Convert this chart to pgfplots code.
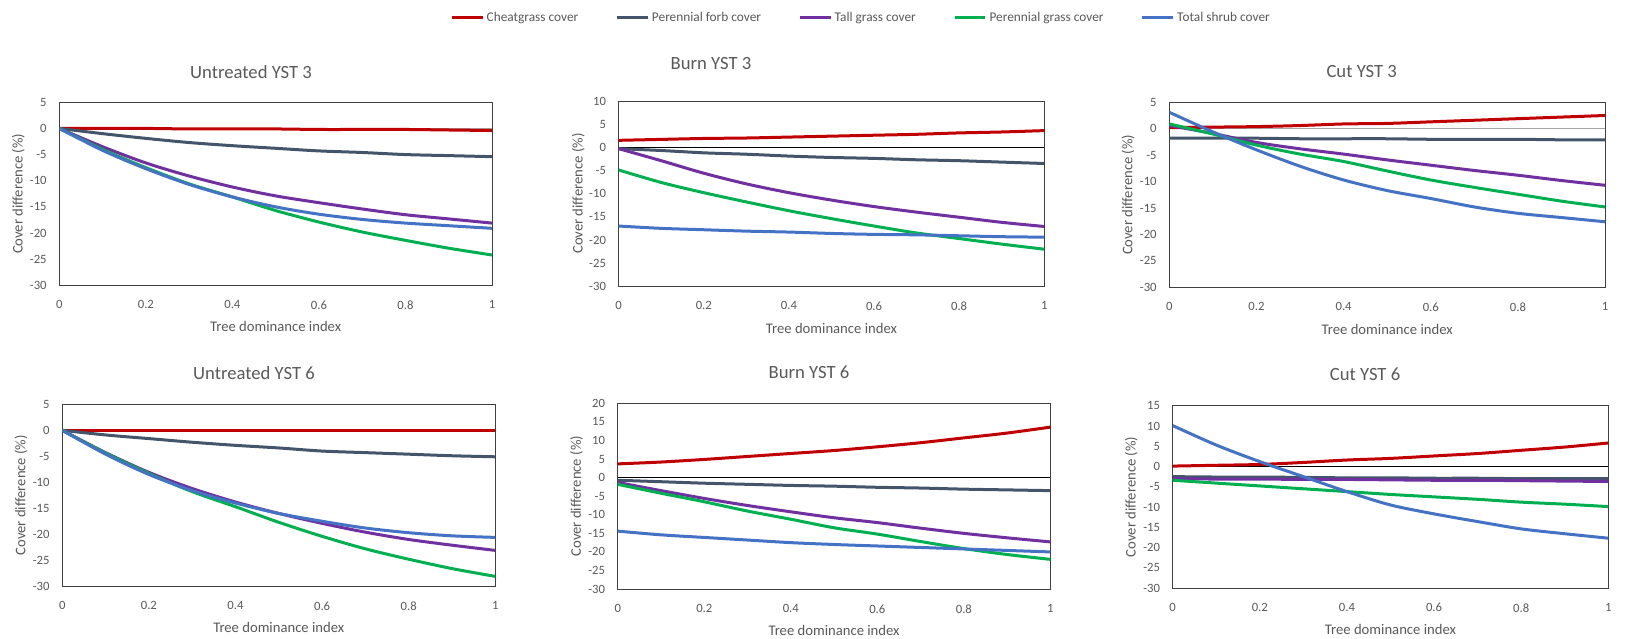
\documentclass[border=0pt]{standalone}
\usepackage{fontspec}
\setmainfont{Carlito}
\usepackage{pgfplots}
\usepackage{pgfplotstable}
\pgfplotsset{compat=1.18}
\definecolor{cheat}{HTML}{C00000}
\definecolor{forb}{HTML}{44546A}
\definecolor{tall}{HTML}{7030A0}
\definecolor{pgrass}{HTML}{00B050}
\definecolor{shrub}{HTML}{4472C4}
\definecolor{txt}{HTML}{595959}
\definecolor{frm}{HTML}{404040}

\pgfplotstableread{
x cheat forb tall pg shrub
0   0    0    0     0     0
0.1 0   -1.0 -3.5  -4.0  -4.2
0.2 0   -1.9 -6.6  -7.5  -7.7
0.3 -0.1 -2.7 -9.1 -10.6 -10.7
0.4 -0.1 -3.3 -11.2 -13.1 -13.1
0.5 -0.1 -3.8 -12.9 -15.7 -15.0
0.6 -0.2 -4.3 -14.2 -17.9 -16.4
0.7 -0.2 -4.6 -15.4 -19.8 -17.4
0.8 -0.2 -5.0 -16.5 -21.4 -18.1
0.9 -0.3 -5.2 -17.3 -22.9 -18.6
1.0 -0.4 -5.4 -18.1 -24.2 -19.1
}\tA
\pgfplotstableread{
x cheat forb tall pg shrub
0   1.5 -0.3 -0.3  -4.9 -17.0
0.1 1.7 -0.7 -2.9  -7.6 -17.5
0.2 1.9 -1.2 -5.6  -9.8 -17.8
0.3 2.0 -1.5 -7.9 -11.8 -18.1
0.4 2.2 -1.9 -9.8 -13.7 -18.3
0.5 2.4 -2.2 -11.4 -15.4 -18.6
0.6 2.6 -2.4 -12.8 -17.0 -18.8
0.7 2.8 -2.7 -14.0 -18.5 -18.9
0.8 3.1 -2.9 -15.1 -19.7 -19.1
0.9 3.3 -3.2 -16.2 -20.9 -19.3
1.0 3.6 -3.5 -17.1 -22.0 -19.4
}\tB
\pgfplotstableread{
x cheat forb tall pg shrub
0   0.2 -1.8  0.6   0.9   3.1
0.1 0.3 -1.8 -0.9  -1.0  -0.6
0.2 0.4 -1.8 -2.6  -3.1  -4.0
0.3 0.6 -1.9 -3.8  -4.8  -7.1
0.4 0.9 -1.9 -4.8  -6.2  -9.7
0.5 1.0 -1.9 -5.9  -8.0 -11.7
0.6 1.3 -2.0 -6.9  -9.7 -13.2
0.7 1.6 -2.0 -7.9 -11.1 -14.8
0.8 1.9 -2.0 -8.8 -12.4 -16.0
0.9 2.2 -2.1 -9.8 -13.7 -16.8
1.0 2.5 -2.1 -10.7 -14.8 -17.6
}\tC
\pgfplotstableread{
x cheat forb tall pg shrub
0   0  0    0     0     0
0.1 0 -0.9 -4.3  -4.4  -4.6
0.2 0 -1.6 -8.1  -8.3  -8.5
0.3 0 -2.3 -11.2 -11.8 -11.6
0.4 0 -2.9 -13.8 -14.7 -14.0
0.5 0 -3.4 -16.0 -17.7 -16.0
0.6 0 -4.0 -17.9 -20.4 -17.5
0.7 0 -4.3 -19.6 -22.8 -18.8
0.8 0 -4.6 -21.0 -24.8 -19.7
0.9 0 -4.9 -22.1 -26.6 -20.3
1.0 0 -5.1 -23.1 -28.1 -20.6
}\tD
\pgfplotstableread{
x cheat forb tall pg shrub
0   3.7  -0.7 -1.3  -1.8 -14.4
0.1 4.2  -1.1 -3.5  -4.2 -15.4
0.2 4.9  -1.5 -5.6  -6.5 -16.1
0.3 5.7  -1.8 -7.5  -9.0 -16.8
0.4 6.5  -2.1 -9.2 -11.2 -17.5
0.5 7.3  -2.3 -10.8 -13.5 -18.0
0.6 8.3  -2.6 -12.1 -15.2 -18.4
0.7 9.4  -2.8 -13.6 -17.2 -18.8
0.8 10.7 -3.1 -15.0 -19.1 -19.2
0.9 12.0 -3.3 -16.2 -20.7 -19.6
1.0 13.6 -3.5 -17.3 -22.0 -20.0
}\tE
\pgfplotstableread{
x cheat forb tall pg shrub
0   0.1 -2.5 -3.0 -3.4  10.1
0.1 0.3 -2.6 -3.1 -4.1   5.3
0.2 0.5 -2.6 -3.1 -4.8   1.2
0.3 1.0 -2.7 -3.2 -5.5  -2.5
0.4 1.6 -2.8 -3.2 -6.2  -6.2
0.5 2.0 -2.8 -3.3 -6.9  -9.5
0.6 2.6 -2.9 -3.4 -7.5 -11.7
0.7 3.2 -2.9 -3.4 -8.1 -13.6
0.8 4.0 -3.0 -3.5 -8.8 -15.4
0.9 4.8 -3.0 -3.6 -9.3 -16.6
1.0 5.8 -3.0 -3.7 -9.9 -17.7
}\tF

\pgfplotsset{
 panel/.style={
  scale only axis, anchor=south west,
  xmin=0, xmax=1, ymin=-30,
  xtick={0,0.2,0.4,0.6,0.8,1},
  ytick={-30,-25,...,20},
  major tick length=0pt,
  tick label style={font=\fontsize{9.5}{11}\selectfont, text=txt},
  /pgf/number format/assume math mode=true,
  xticklabel style={yshift=-8pt},
  yticklabel style={xshift=-6pt},
  xlabel={Tree dominance index},
  ylabel={Cover difference (\%)},
  label style={font=\fontsize{11}{13}\selectfont, text=txt},
  xlabel style={at={(axis description cs:0.5,-0.225)}, anchor=center},
  ylabel style={at={(axis description cs:-0.095,0.5)}, anchor=center},
  axis line style={frm, line width=0.6pt},
  every axis plot/.append style={line width=2.25pt, smooth, tension=0.5, no markers},
 }
}
\newcommand{\series}[1]{%
  \addplot[cheat] table[x=x,y=cheat]{#1};
  \addplot[forb] table[x=x,y=forb]{#1};
  \addplot[tall] table[x=x,y=tall]{#1};
  \addplot[pgrass] table[x=x,y=pg]{#1};
  \addplot[shrub] table[x=x,y=shrub]{#1};
}

\begin{document}
\begin{tikzpicture}
\path[use as bounding box] (0,0) rectangle (1234.5pt,-479.25pt);

\begin{axis}[panel, at={(44.5pt,-214.0pt)}, width=324.5pt, height=137.3pt, ymax=5]
\addplot[forget plot, line width=0.6pt, black!35, sharp plot] coordinates {(0,0) (1,0)};
\series{\tA}
\end{axis}

\begin{axis}[panel, at={(464.0pt,-214.7pt)}, width=319.2pt, height=139.0pt, ymax=10,
  legend columns=5,
  legend style={at={(axis description cs:0.5705,1.448)}, anchor=center, draw=none, fill=none,
    font=\fontsize{10}{12}\selectfont, text=txt,
    /tikz/every even column/.append style={column sep=26pt}},
  legend image code/.code={\draw[#1, line width=2.25pt, sharp plot] (0pt,0pt) -- (23pt,0pt);}]
\addplot[forget plot, line width=0.6pt, black, sharp plot] coordinates {(0,0) (1,0)};
\series{\tB}
\legend{Cheatgrass cover, Perennial forb cover, Tall grass cover, Perennial grass cover, Total shrub cover}
\end{axis}

\begin{axis}[panel, at={(877.0pt,-215.5pt)}, width=326.8pt, height=138.8pt, ymax=5]
\addplot[forget plot, line width=0.6pt, black!35, sharp plot] coordinates {(0,0) (1,0)};
\series{\tC}
\end{axis}

\begin{axis}[panel, at={(46.7pt,-439.7pt)}, width=324.8pt, height=136.5pt, ymax=5]
\addplot[forget plot, line width=0.6pt, black!35, sharp plot] coordinates {(0,0) (1,0)};
\series{\tD}
\end{axis}

\begin{axis}[panel, at={(463.3pt,-441.8pt)}, width=324.5pt, height=139.3pt, ymax=20]
\addplot[forget plot, line width=0.6pt, black, sharp plot] coordinates {(0,0) (1,0)};
\series{\tE}
\end{axis}

\begin{axis}[panel, at={(879.5pt,-441.0pt)}, width=326.7pt, height=136.7pt, ymax=15]
\addplot[forget plot, line width=0.6pt, black, sharp plot] coordinates {(0,0) (1,0)};
\series{\tF}
\end{axis}

\begin{scope}[every node/.style={font=\fontsize{14}{16}\selectfont, text=txt}]
\node at (188.3pt,-54pt) {Untreated YST 3};
\node at (533.3pt,-47.3pt) {Burn YST 3};
\node at (1021.3pt,-53.3pt) {Cut YST 3};
\node at (190.5pt,-279.5pt) {Untreated YST 6};
\node at (606.8pt,-279.5pt) {Burn YST 6};
\node at (1023.8pt,-280.7pt) {Cut YST 6};
\end{scope}
\end{tikzpicture}
\end{document}
